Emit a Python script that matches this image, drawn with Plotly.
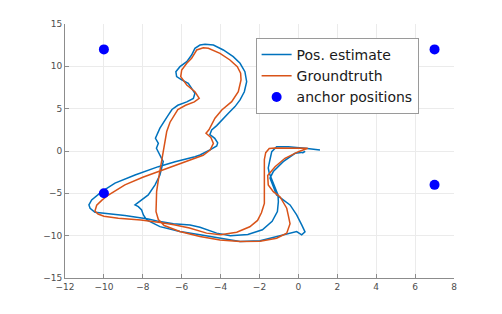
import plotly.graph_objects as go

# Groundtruth trajectory (orange)
gt_x = [0.48, -0.3, -1.2, -1.5, -1.68, -1.75, -1.75, -1.72, -1.72, -1.75, -1.9, -2.1, -2.5, -3.17,
        -4.0, -4.72, -5.6, -6.4, -7.1, -8.1, -9.26, -10.0, -10.3, -10.46, -10.37, -10.1, -9.77,
        -8.92, -8.0, -7.2, -6.1, -5.3, -4.9, -4.54, -4.37, -4.5, -4.75, -4.6, -4.46, -4.29, -3.94,
        -3.43, -3.09, -2.95, -2.97, -3.14, -3.52, -4.03, -4.63, -4.89, -5.23, -5.49, -5.74, -6.0,
        -6.05, -5.74, -5.32, -5.1, -5.35, -5.8, -6.2, -6.4, -6.6, -6.77, -6.86, -6.95, -7.05, -7.12,
        -7.2, -7.29, -7.32, -7.32, -7.2, -6.9, -6.1, -5.06, -4.03, -3.0, -1.97, -1.12, -0.6, -0.43,
        -0.52, -0.6, -0.95, -1.29, -1.55, -1.58, -1.2, -0.69, 0.0, 0.48]
gt_y = [0.32, 0.36, 0.36, 0.3, -0.2, -1.0, -2.0, -3.5, -5.0, -6.2, -7.3, -8.2, -8.95, -9.6,
        -9.9, -9.7, -9.1, -8.7, -8.45, -8.15, -7.94, -7.7, -7.45, -7.1, -6.4, -5.8, -5.2,
        -4.0, -3.1, -2.43, -1.45, -0.85, -0.5, 0.12, 0.9, 1.6, 2.1, 2.5, 3.08, 3.87, 4.85,
        5.83, 7.0, 8.39, 9.18, 9.96, 10.75, 11.54, 12.13, 12.2, 11.93, 10.95, 10.36, 9.57,
        8.78, 7.8, 7.0, 6.23, 5.8, 5.4, 4.9, 4.2, 3.4, 2.3, 1.1, 0.0, -1.0, -2.04,
        -3.4, -4.8, -6.0, -7.16, -8.1, -8.8, -9.5, -10.1, -10.5, -10.7, -10.65, -10.3, -9.7, -8.6,
        -7.6, -6.76, -5.4, -4.8, -4.0, -2.9, -1.85, -0.86, -0.08, 0.32]

# Position estimate (blue)
est_x = [1.11, 0.77, 0.34, -0.1, -0.52, -1.12, -1.37, -1.46, -1.55, -1.5, -1.35, -1.2, -1.05, -1.03,
         -1.08, -1.35, -1.85, -2.6, -3.5, -4.2, -5.06, -5.57, -6.43, -7.12, -7.72, -8.92, -9.94,
         -10.46, -10.71, -10.77, -10.63, -10.11, -9.43, -8.4, -7.2, -6.34, -5.32, -5.06, -4.5, -4.2,
         -4.15, -4.3, -4.55, -4.46, -4.2, -3.94, -3.6, -3.26, -3.0, -2.78, -2.66, -2.75, -3.0, -3.35,
         -3.86, -4.37, -4.8, -5.06, -5.32, -5.49, -5.74, -6.09, -6.3, -6.26, -6.0, -5.66, -5.49,
         -5.32, -5.4, -5.74, -6.2, -6.5, -6.7, -6.9, -7.12, -7.35, -7.2, -7.3, -7.1, -6.95, -7.12,
         -7.37, -7.72, -8.06, -8.4, -8.23, -8.06, -7.97, -7.8, -7.12, -6.09, -5.06, -4.03, -3.0,
         -1.97, -0.95, -0.09, 0.17, 0.34, 0.17, -0.09, -0.43, -1.12, -1.46, -1.29, -0.78, -0.17,
         0.25, 0.35, 0.2]
est_y = [0.12, 0.24, 0.32, 0.42, 0.51, 0.51, -0.08, -1.0, -2.0, -2.6, -3.5, -4.4, -5.2, -6.0,
         -7.16, -8.3, -9.3, -9.85, -10.0, -9.7, -9.0, -8.73, -8.6, -8.34, -8.02, -7.63, -7.35,
         -7.24, -6.76, -6.37, -5.78, -4.8, -3.8, -2.83, -1.85, -1.26, -0.67, -0.47, 0.2, 0.6,
         0.95, 1.5, 1.95, 2.49, 3.0, 3.67, 4.46, 5.24, 6.03, 7.0, 8.19, 9.37, 10.36, 11.14,
         11.93, 12.52, 12.6, 12.52, 12.13, 11.34, 10.55, 9.96, 9.37, 8.78, 8.39, 8.0, 7.41,
         6.82, 6.2, 5.8, 5.4, 4.9, 4.2, 3.4, 2.7, 1.5, 0.9, 0.32, -0.5, -1.26, -2.83,
         -4.0, -5.19, -5.78, -6.37, -6.57, -6.96, -7.55, -8.14, -8.93, -9.52, -9.9, -10.3, -10.7,
         -10.6, -10.0, -9.52, -9.9, -9.55, -8.73, -7.55, -6.37, -5.19, -3.2, -2.43, -1.26, -0.27,
         -0.15, -0.05, -0.25]

# Anchor positions
anchor_x = [-10, 7, 7, -10]
anchor_y = [12, 12, -4, -5]

x_ticks = list(range(-12, 9, 2))
y_ticks = list(range(-15, 16, 5))

fig = go.Figure()
fig.add_trace(go.Scatter(x=est_x, y=est_y, mode="lines", name="Pos. estimate",
                         line=dict(color="#0072BD", width=1.5)))
fig.add_trace(go.Scatter(x=gt_x, y=gt_y, mode="lines", name="Groundtruth",
                         line=dict(color="#D95319", width=1.5)))
fig.add_trace(go.Scatter(x=anchor_x, y=anchor_y, mode="markers", name="anchor positions",
                         marker=dict(color="#0000FF", size=10)))

axis_common = dict(showgrid=True, gridcolor="#ebebeb", gridwidth=1, zeroline=False,
                   showline=True, linecolor="#8c8c8c", linewidth=1, ticks="inside",
                   ticklen=4, tickcolor="#8c8c8c", mirror=False,
                   tickfont=dict(family="DejaVu Sans", size=9, color="#4d4d4d"))

fig.update_xaxes(range=[-12, 8], tickvals=x_ticks, **axis_common)
fig.update_yaxes(range=[-15, 15], tickvals=y_ticks, **axis_common)

fig.update_layout(
    width=494, height=306,
    margin=dict(l=57, r=48, t=16, b=36),
    paper_bgcolor="white", plot_bgcolor="white",
    showlegend=True,
    legend=dict(x=0.49, y=0.945, xanchor="left", yanchor="top",
                bgcolor="white", bordercolor="#9a9a9a", borderwidth=1,
                font=dict(family="DejaVu Sans", size=14, color="#1a1a1a"),
                itemwidth=30, tracegroupgap=0),
)

fig.write_html("out.html")
